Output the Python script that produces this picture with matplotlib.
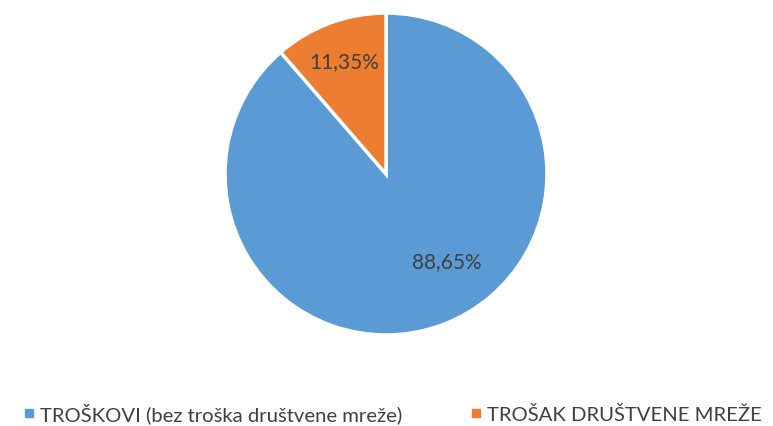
import matplotlib
matplotlib.use('Agg')
import numpy as np
from matplotlib import pyplot
from matplotlib.lines import Line2D

labels = ['TROŠKOVI (bez troška društvene mreže)', 'TROŠAK DRUŠTVENE MREŽE']
values = [88.65, 11.35]
colors = ['#5B9BD5', '#ED7D31']

pyplot.rcParams['font.family'] = ['Lato', 'DejaVu Sans']

W, H = 773, 427
fig = pyplot.figure(figsize=(W/100, H/100), dpi=100)

cx, cy, r = 386, 175, 161
ax = fig.add_axes([(cx - r)/W, (H - cy - r)/H, 2*r/W, 2*r/H])

wedges, texts, autotexts = ax.pie(
    values, colors=colors, startangle=90, counterclock=False,
    autopct=lambda p: f'{p:.2f}%'.replace('.', ','), pctdistance=0.75,
    wedgeprops=dict(edgecolor='white', linewidth=2.5),
    textprops=dict(color='#404040', fontsize=15))
ax.set_xlim(-1, 1)
ax.set_ylim(-1, 1)
ax.set_aspect('equal')

# excel puts the big label off the bisector
autotexts[0].set_position((0.38, -0.54))

handles = [Line2D([], [], marker='s', linestyle='none', markersize=5.5,
                  markerfacecolor=c, markeredgecolor=c) for c in colors]
fig.legend(handles, labels, loc='center', bbox_to_anchor=(0.508, 1 - 414/H),
           ncol=2, frameon=False, fontsize=14.6, handletextpad=0.3,
           columnspacing=3.4, labelcolor='#404040', handlelength=0.5,
           borderpad=0.1)

pyplot.savefig('out.png', dpi=100)
